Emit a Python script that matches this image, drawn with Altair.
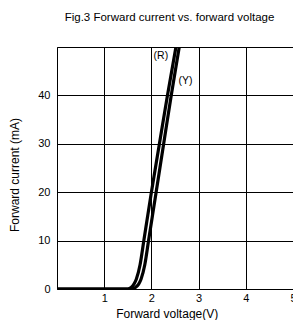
import altair as alt
import pandas as pd

# Forward current vs forward voltage, two LEDs
v_r = [0.0, 1.50, 1.57, 1.63, 1.68, 1.76, 1.84, 2.00, 2.17, 2.34, 2.52]
i_r = [0, 0, 0.3, 1, 2, 5, 10, 20, 30, 40, 50]
v_y = [0.0, 1.58, 1.66, 1.73, 1.78, 1.86, 1.94, 2.10, 2.26, 2.42, 2.59]
i_y = [0, 0, 0.3, 1, 2, 5, 10, 20, 30, 40, 50]

label_text = ["(R)", "(Y)"]
label_v = [2.2, 2.72]
label_i = [48.2, 43.0]

x_ticks = [0, 0.5, 1, 1.5, 2, 2.5, 3, 3.5, 4, 4.5, 5]
y_ticks = [0, 5, 10, 15, 20, 25, 30, 35, 40, 45, 50]

curves = pd.DataFrame(
    {"V": v_r + v_y, "I": i_r + i_y, "led": ["R"] * len(v_r) + ["Y"] * len(v_y)}
)
labels = pd.DataFrame({"t": label_text, "V": label_v, "I": label_i})

FONT = "Liberation Sans"

x_enc = alt.X(
    "V:Q",
    scale=alt.Scale(domain=[0, 5], nice=False),
    axis=alt.Axis(
        values=x_ticks,
        labelExpr="(datum.value % 1 == 0 && datum.value > 0) ? datum.label : ''",
        title="Forward voltage(V)",
        titleX=109.7,
        titleY=28,
        titleAlign="center",
        titleBaseline="alphabetic",
        titleFontSize=12,
        titleFontWeight="normal",
        titleFont=FONT,
        titleColor="#000",
        labelFont=FONT,
        labelFontSize=11,
        labelColor="#000",
        labelPadding=3,
        labelFlush=False,
        labelOverlap=False,
        ticks=False,
        tickSize=0,
        grid=True,
        gridColor="#000",
        gridWidth=1,
        gridOpacity=1,
        domainColor="#000",
    ),
)
y_enc = alt.Y(
    "I:Q",
    scale=alt.Scale(domain=[0, 50], nice=False),
    axis=alt.Axis(
        values=y_ticks,
        labelExpr="(datum.value % 10 == 0 && datum.value < 50) ? datum.label : ''",
        title="Forward current (mA)",
        titleX=-38.5,
        titleY=127.5,
        titleAngle=270,
        titleAlign="center",
        titleBaseline="alphabetic",
        titleFontSize=12,
        titleFontWeight="normal",
        titleFont=FONT,
        titleColor="#000",
        labelFont=FONT,
        labelFontSize=11,
        labelColor="#000",
        labelPadding=7,
        labelOverlap=False,
        ticks=False,
        tickSize=0,
        grid=True,
        gridColor="#000",
        gridWidth=1,
        gridOpacity=1,
        domainColor="#000",
    ),
)

lines = (
    alt.Chart(curves)
    .mark_line(color="#000", strokeWidth=3.2, interpolate="monotone", clip=True)
    .encode(x=x_enc, y=y_enc, detail="led:N")
)

texts = (
    alt.Chart(labels)
    .mark_text(font=FONT, fontSize=10.5, color="#000", align="center", baseline="middle")
    .encode(x=alt.X("V:Q"), y=alt.Y("I:Q"), text="t:N")
)

chart = (
    alt.layer(lines, texts)
    .properties(
        width=236,
        height=242,
        autosize=alt.AutoSizeParams(type="none"),
        padding={"left": 49, "top": 39, "right": 0, "bottom": 31},
        background="white",
        title=alt.TitleParams(
            "Fig.3 Forward current vs. forward voltage",
            font=FONT,
            fontSize=11.5,
            fontWeight="normal",
            color="#000",
            anchor="middle",
            frame="group",
            baseline="alphabetic",
            offset=9,
            dx=-5.5,
        ),
    )
    .configure_view(stroke=None)
)

chart.save("out.html", embed_options={"renderer": "svg", "actions": False})
